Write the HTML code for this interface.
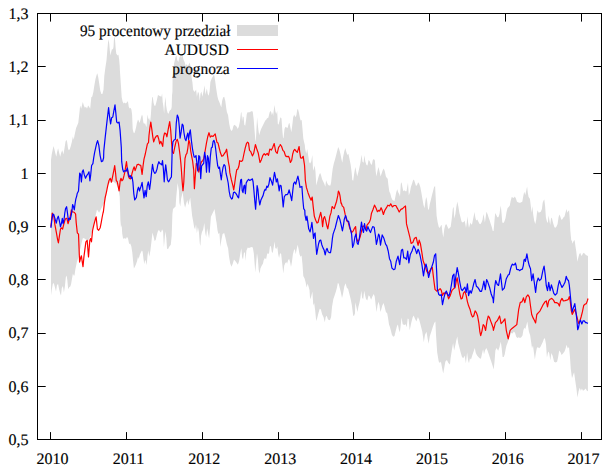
<!DOCTYPE html>
<html><head><meta charset="utf-8"><style>
html,body{margin:0;padding:0;background:#fff;}
svg{display:block;}
text{font-family:"Liberation Serif",serif;font-size:16px;fill:#000;text-rendering:geometricPrecision;stroke:#000;stroke-width:0.15px;}
</style></head><body>
<svg width="611" height="471" viewBox="0 0 611 471">
<path d="M51.0,160.0 L51.7,154.6 L52.8,149.3 L53.5,146.1 L54.4,149.3 L55.4,153.5 L56.3,156.7 L57.0,152.5 L58.1,148.2 L59.1,152.5 L60.2,156.7 L61.3,152.5 L62.3,150.3 L63.4,154.6 L64.5,148.2 L65.5,141.8 L66.3,139.7 L67.1,141.8 L68.0,148.2 L68.7,150.3 L69.8,149.3 L70.8,146.1 L71.9,141.8 L72.9,136.5 L73.7,139.7 L74.5,135.5 L75.4,131.2 L76.1,128.0 L77.2,125.4 L78.3,122.7 L79.0,116.4 L79.6,111.1 L80.1,105.6 L81.2,108.8 L82.8,101.9 L83.8,105.6 L84.9,107.8 L86.0,106.7 L87.0,108.8 L88.1,105.6 L89.1,106.7 L90.2,108.8 L91.3,97.2 L92.3,96.6 L93.4,91.8 L94.5,84.4 L95.5,79.1 L96.6,74.9 L97.3,73.3 L98.2,77.0 L99.2,83.4 L100.3,90.8 L101.4,94.0 L102.4,94.0 L103.5,89.7 L104.3,75.9 L105.4,67.4 L106.1,63.0 L106.5,60.3 L107.2,52.1 L108.0,42.7 L108.6,39.3 L109.2,43.6 L109.9,51.2 L110.6,55.5 L111.2,52.1 L112.0,49.1 L112.9,49.5 L113.5,47.0 L114.0,38.5 L114.6,36.8 L115.0,39.3 L115.7,48.7 L116.3,53.8 L116.9,54.6 L117.7,55.5 L118.4,54.6 L119.1,58.9 L119.7,65.7 L119.9,70.6 L121.0,86.5 L121.7,97.2 L122.6,101.4 L123.6,103.5 L124.7,102.5 L125.8,103.5 L126.8,102.5 L127.6,101.2 L128.0,101.8 L128.8,106.9 L129.7,108.6 L130.5,107.7 L131.4,109.4 L132.1,114.5 L132.7,129.0 L133.5,132.4 L134.4,133.2 L135.2,130.7 L136.1,127.3 L136.9,123.0 L138.0,119.6 L138.6,120.5 L139.5,123.0 L140.3,120.5 L141.2,117.1 L142.0,114.5 L142.6,116.2 L143.3,122.2 L144.1,123.9 L145.0,123.0 L145.8,125.6 L146.5,127.3 L147.1,118.8 L147.7,114.5 L148.4,119.6 L149.1,117.9 L149.7,120.5 L150.3,120.5 L150.9,114.5 L151.6,103.5 L152.2,97.5 L152.8,96.7 L153.5,102.6 L154.3,105.6 L155.2,106.0 L156.0,103.5 L156.9,100.1 L157.7,96.3 L158.0,95.1 L159.7,95.9 L161.4,96.8 L162.1,93.4 L162.7,101.9 L163.5,106.9 L164.1,113.7 L164.8,102.7 L165.5,96.8 L166.1,105.3 L166.9,110.3 L167.7,112.9 L168.6,113.7 L169.4,111.2 L170.3,109.9 L171.1,109.5 L171.7,106.9 L172.1,92.0 L172.4,95.0 L172.6,76.8 L174.0,64.0 L175.6,56.7 L176.5,55.6 L177.2,59.9 L178.3,62.0 L179.3,57.7 L180.4,55.6 L181.1,57.7 L181.8,55.6 L182.5,55.6 L183.6,59.9 L184.6,62.0 L185.7,66.2 L186.8,64.1 L187.8,66.2 L188.9,64.1 L189.6,62.5 L190.5,66.2 L191.5,76.8 L192.4,82.2 L193.1,89.6 L194.2,91.7 L195.0,91.5 L196.1,89.4 L196.9,96.8 L198.0,91.5 L199.0,93.7 L199.8,101.1 L200.5,93.7 L201.4,91.5 L202.4,96.8 L203.5,91.5 L204.6,85.2 L205.4,94.7 L206.1,91.5 L206.9,88.4 L207.7,93.7 L208.6,95.8 L209.6,91.5 L210.4,82.0 L211.1,79.9 L212.0,77.7 L212.8,76.7 L213.6,75.1 L214.3,75.6 L215.2,80.9 L216.0,87.3 L216.8,92.6 L217.5,96.8 L218.4,100.0 L219.4,102.2 L220.5,105.3 L221.3,107.5 L222.1,101.1 L223.1,97.4 L224.2,96.8 L225.3,101.1 L226.3,108.5 L227.4,115.0 L227.6,112.0 L228.2,116.2 L229.2,123.7 L230.3,129.0 L231.4,131.1 L232.4,130.0 L233.5,125.8 L234.6,124.7 L235.6,125.8 L236.7,126.8 L237.7,129.0 L238.8,126.8 L239.9,121.5 L240.9,113.0 L241.5,112.0 L242.0,121.5 L242.8,116.2 L243.6,117.3 L244.3,124.7 L245.2,125.8 L246.0,120.5 L246.8,114.1 L247.8,112.0 L248.9,112.5 L249.9,112.0 L251.0,111.5 L252.1,110.9 L252.8,112.0 L253.7,119.4 L254.5,130.0 L255.3,139.6 L255.8,141.7 L256.3,132.2 L257.1,117.3 L257.7,123.7 L258.4,130.0 L259.2,135.3 L260.0,132.2 L261.1,129.0 L262.2,126.8 L263.2,124.7 L264.3,122.6 L265.3,120.5 L266.4,119.4 L267.3,117.8 L268.0,118.4 L268.7,116.2 L269.6,112.5 L270.4,110.9 L271.2,112.0 L271.9,115.2 L272.8,112.0 L273.1,116.2 L273.8,109.9 L274.6,105.1 L275.3,110.9 L276.2,114.1 L277.2,110.9 L277.8,123.7 L278.5,124.7 L279.4,121.5 L280.4,117.3 L281.5,118.4 L282.3,130.0 L283.1,138.5 L283.6,137.5 L284.5,129.0 L285.5,126.8 L286.6,127.4 L287.6,127.9 L288.7,123.7 L289.5,123.1 L290.2,126.8 L291.3,132.2 L292.1,126.8 L293.2,117.3 L294.2,114.6 L295.3,117.3 L296.4,115.2 L297.2,109.9 L297.9,108.8 L299.0,113.0 L299.8,117.3 L300.6,120.5 L301.7,119.9 L302.5,129.0 L303.3,138.5 L304.0,141.7 L304.8,145.0 L305.1,148.5 L306.2,153.8 L307.2,149.0 L308.3,155.9 L309.2,162.3 L310.2,163.4 L311.3,161.2 L312.3,154.9 L313.1,170.8 L313.8,168.7 L314.7,165.5 L315.5,171.8 L316.3,185.6 L317.3,181.4 L318.4,177.2 L319.5,174.0 L320.2,172.9 L321.0,175.0 L322.1,179.3 L323.2,181.4 L324.2,183.5 L325.3,186.7 L326.1,180.3 L326.9,182.5 L327.9,184.6 L329.0,185.6 L330.4,185.6 L331.1,182.5 L331.9,175.0 L332.7,168.7 L333.8,163.4 L334.8,160.2 L335.9,155.9 L337.0,151.7 L338.2,146.9 L339.3,149.6 L340.4,153.8 L341.4,159.1 L342.3,162.8 L343.1,157.0 L344.2,151.7 L345.3,148.0 L346.3,151.7 L347.4,154.9 L348.4,153.8 L349.5,159.1 L350.6,164.4 L351.6,172.0 L352.3,180.0 L353.2,180.8 L354.2,173.4 L355.3,167.0 L356.2,171.2 L357.2,176.5 L358.3,172.3 L359.3,168.0 L360.4,162.7 L361.5,154.8 L362.5,161.7 L363.6,162.7 L364.3,155.3 L365.4,161.7 L366.5,164.9 L367.5,165.4 L368.6,160.1 L369.6,161.1 L370.7,163.8 L371.8,164.9 L372.8,160.1 L373.9,159.0 L374.9,160.6 L375.7,171.2 L376.5,176.5 L377.4,171.2 L378.5,167.0 L379.5,171.2 L380.6,176.5 L381.6,173.4 L382.7,170.2 L383.8,168.6 L384.8,171.2 L385.9,176.5 L386.9,178.1 L387.7,178.7 L388.4,185.0 L389.3,191.4 L390.3,193.5 L391.4,197.8 L392.5,200.0 L394.5,201.0 L396.2,192.5 L397.2,189.3 L398.3,192.5 L399.4,194.6 L400.0,196.7 L400.8,183.8 L401.6,182.2 L402.4,187.0 L403.3,191.2 L404.3,190.2 L405.4,191.2 L406.5,191.2 L407.2,187.0 L408.0,182.7 L408.8,195.5 L409.9,192.3 L410.9,187.0 L412.0,183.8 L413.0,180.6 L413.9,179.6 L415.0,182.7 L416.0,185.9 L417.1,184.9 L418.1,182.2 L419.2,183.8 L420.3,187.0 L421.3,192.3 L422.4,198.7 L423.5,205.0 L424.5,208.2 L425.6,199.7 L426.3,197.1 L427.1,200.8 L427.9,208.2 L428.8,210.3 L429.8,204.0 L430.9,199.7 L431.9,195.5 L433.0,191.2 L434.1,187.0 L435.1,185.9 L435.9,201.8 L436.6,215.6 L437.3,220.0 L437.7,222.6 L438.7,226.8 L439.8,227.9 L440.8,225.8 L441.6,224.7 L442.4,232.2 L443.3,237.5 L444.3,229.0 L445.4,224.7 L446.5,224.2 L447.5,226.8 L448.6,229.0 L449.6,227.9 L450.7,226.8 L451.8,218.4 L452.8,208.8 L453.6,206.7 L454.3,218.4 L455.4,214.1 L456.2,207.7 L457.3,201.4 L458.4,206.7 L459.4,213.0 L460.5,217.3 L461.5,221.5 L462.6,222.6 L463.7,222.1 L464.5,220.5 L465.3,223.7 L466.0,227.9 L466.8,222.6 L467.5,216.2 L468.1,222.6 L469.0,227.9 L469.8,224.7 L470.6,222.6 L471.3,224.7 L472.2,223.7 L473.0,219.4 L473.9,215.2 L474.5,212.0 L475.3,217.3 L476.2,220.5 L477.3,219.4 L478.3,221.5 L479.4,223.7 L480.4,224.2 L481.5,222.6 L482.6,219.4 L483.4,214.1 L484.1,217.2 L484.9,222.5 L485.7,217.2 L486.4,211.8 L487.5,214.0 L488.5,217.2 L489.6,220.3 L490.6,223.5 L491.7,226.7 L492.8,231.0 L493.6,231.0 L494.5,220.3 L495.2,212.9 L496.3,215.0 L497.3,217.2 L498.4,217.2 L499.5,214.0 L500.2,208.7 L500.8,205.5 L501.6,214.0 L502.3,222.5 L503.4,223.0 L504.4,221.4 L505.5,218.2 L506.6,211.8 L507.6,208.1 L508.7,207.1 L509.8,205.5 L510.6,201.2 L511.7,197.0 L512.7,197.5 L513.8,198.0 L514.8,196.5 L515.9,198.6 L517.0,201.8 L518.0,202.3 L519.1,202.8 L520.2,202.8 L521.2,202.3 L522.3,201.8 L523.1,197.0 L524.2,191.7 L525.3,194.9 L526.3,190.6 L527.1,186.4 L527.8,192.7 L528.6,197.0 L529.7,198.6 L530.0,199.6 L530.8,205.9 L531.6,212.8 L532.3,205.9 L533.2,214.4 L534.2,220.8 L535.3,224.0 L536.2,219.7 L536.9,213.4 L537.6,210.2 L538.7,212.8 L539.8,212.3 L540.8,211.8 L541.9,209.1 L542.7,202.7 L543.6,200.6 L544.3,199.6 L545.1,205.9 L545.9,217.6 L547.0,221.8 L547.8,222.9 L548.6,215.5 L549.3,219.7 L550.2,225.0 L551.0,218.7 L551.8,217.6 L552.5,220.8 L553.4,224.0 L554.4,227.2 L555.5,227.7 L556.5,226.6 L557.6,224.0 L558.5,217.6 L559.3,214.4 L560.3,216.5 L561.3,219.7 L562.4,219.2 L563.4,217.6 L564.5,216.5 L565.6,212.3 L566.6,209.1 L567.4,212.8 L568.2,211.2 L569.1,210.2 L569.8,219.7 L570.3,230.3 L570.9,236.7 L571.3,241.0 L571.8,240.0 L572.5,243.7 L573.6,241.0 L574.6,240.0 L575.5,246.4 L576.3,251.7 L577.4,261.8 L578.1,258.6 L579.2,254.3 L580.3,252.7 L581.0,254.9 L581.8,255.9 L582.7,253.8 L583.8,252.7 L584.8,253.8 L585.9,254.9 L586.9,255.4 L588.0,255.9 L587.9,391.3 L586.9,390.8 L585.7,388.6 L584.2,390.1 L583.0,390.8 L581.9,388.6 L580.9,390.8 L579.7,387.8 L578.5,391.5 L577.5,397.5 L576.4,388.6 L575.3,381.1 L574.1,372.2 L573.0,375.2 L572.0,378.2 L570.8,369.2 L570.0,357.3 L569.0,346.9 L567.8,348.4 L566.6,344.7 L565.6,348.4 L564.5,351.4 L563.0,353.6 L561.6,355.1 L560.4,352.1 L559.2,350.6 L558.1,357.3 L557.1,361.8 L555.6,362.5 L554.1,361.8 L552.6,355.8 L551.4,352.9 L550.3,360.3 L549.2,352.9 L548.2,351.4 L547.0,357.3 L546.9,357.3 L546.0,344.3 L545.1,339.2 L544.2,338.0 L542.9,341.8 L541.7,344.3 L540.4,346.9 L539.1,348.2 L537.8,346.9 L536.8,348.2 L535.8,353.3 L534.9,359.6 L534.0,353.3 L533.0,345.6 L532.0,348.2 L531.1,341.8 L530.2,335.4 L528.9,331.6 L527.9,325.2 L527.3,321.4 L526.4,325.2 L525.3,329.0 L524.3,327.8 L523.4,330.3 L522.5,335.4 L521.3,337.3 L520.0,338.0 L518.7,337.3 L517.4,338.0 L516.2,336.7 L515.1,332.9 L513.9,331.6 L512.6,333.5 L511.3,332.9 L510.0,335.4 L508.8,339.2 L507.5,343.1 L506.5,345.6 L505.6,349.4 L504.7,354.5 L503.7,357.1 L502.6,357.1 L501.7,348.2 L500.8,341.8 L499.8,345.6 L499.6,346.7 L498.1,351.0 L498.0,350.5 L496.5,348.0 L495.4,350.5 L494.6,360.7 L493.7,369.6 L492.6,365.8 L491.4,362.0 L490.1,358.2 L488.8,354.3 L487.5,350.5 L486.3,348.0 L485.0,350.5 L484.0,354.3 L483.1,349.2 L482.2,353.1 L480.9,358.8 L479.6,358.2 L478.4,356.9 L477.1,355.6 L475.8,353.1 L474.8,348.0 L473.5,351.8 L472.2,355.6 L471.0,359.4 L469.9,358.2 L469.0,363.3 L468.2,360.7 L467.1,352.4 L465.9,363.3 L464.6,355.6 L463.3,358.2 L462.0,356.9 L460.8,353.1 L459.5,348.0 L458.2,342.9 L457.3,336.5 L456.3,340.3 L455.0,346.7 L454.1,350.5 L453.1,342.9 L451.8,350.5 L450.6,358.2 L450.0,364.5 L448.4,363.0 L446.9,360.1 L445.4,361.5 L444.3,367.5 L443.2,373.5 L442.0,367.5 L440.9,361.5 L439.9,363.0 L438.7,361.5 L437.2,352.6 L436.0,334.8 L435.4,321.4 L434.2,322.9 L432.7,327.3 L431.3,331.8 L429.8,336.3 L428.6,343.7 L427.5,337.7 L426.5,331.8 L425.0,334.8 L423.8,342.2 L422.3,331.8 L420.8,325.8 L419.3,319.9 L417.9,316.9 L416.4,321.4 L414.9,318.4 L413.7,315.4 L412.6,317.6 L411.2,322.9 L409.7,330.3 L408.6,319.1 L407.7,318.4 L406.7,327.3 L405.7,324.3 L404.2,325.1 L402.7,324.3 L401.5,317.6 L400.8,324.6 L399.9,332.3 L398.9,329.7 L397.9,324.6 L397.0,325.9 L395.7,331.0 L394.5,336.1 L393.2,336.8 L391.9,334.8 L391.0,331.0 L390.0,327.2 L389.0,324.6 L388.1,318.3 L387.2,313.2 L385.9,311.9 L384.6,306.8 L383.6,303.0 L382.3,305.5 L381.3,309.3 L380.4,311.9 L379.5,305.5 L378.5,301.7 L377.5,305.5 L376.6,311.9 L375.7,305.5 L374.7,296.6 L373.7,294.0 L372.4,296.6 L371.1,299.8 L369.8,296.6 L368.6,295.3 L367.3,300.4 L366.0,299.1 L365.1,295.3 L364.2,290.8 L363.2,299.1 L362.2,297.9 L361.3,290.8 L360.4,297.9 L359.4,303.0 L358.4,306.8 L357.5,311.9 L356.6,308.1 L355.3,302.3 L355.0,313.3 L354.1,315.8 L353.2,315.8 L351.9,305.6 L350.7,299.2 L349.4,294.1 L348.1,289.0 L346.8,287.8 L345.6,283.3 L344.3,286.5 L343.0,294.1 L342.0,298.0 L340.7,291.6 L339.7,287.8 L338.8,283.9 L337.9,282.7 L336.9,287.8 L335.9,291.6 L334.6,295.4 L333.3,299.2 L332.0,306.9 L331.1,317.1 L329.9,320.3 L328.0,319.6 L326.7,315.8 L325.7,317.1 L324.8,322.2 L323.5,317.1 L322.2,314.5 L320.9,309.4 L319.7,308.8 L318.4,313.3 L317.1,318.4 L316.2,320.9 L315.2,310.7 L314.2,303.1 L313.3,305.6 L312.4,291.6 L311.1,296.7 L310.1,299.2 L309.5,290.0 L308.4,286.1 L307.6,283.6 L306.7,287.4 L305.6,282.3 L304.6,278.5 L303.3,275.9 L302.5,264.4 L301.6,255.5 L300.5,256.8 L299.5,254.2 L298.6,249.1 L297.7,244.7 L296.7,249.1 L295.7,254.2 L294.8,249.1 L293.9,250.4 L292.9,254.2 L291.9,261.9 L291.0,267.0 L290.1,261.9 L289.1,258.7 L288.0,260.6 L287.1,263.8 L286.3,261.9 L285.2,263.2 L284.2,265.7 L283.3,273.4 L282.0,261.9 L281.2,254.2 L280.1,253.0 L279.1,258.1 L278.2,254.2 L277.3,246.6 L276.3,249.1 L275.3,247.9 L274.5,241.5 L273.8,246.6 L272.7,253.0 L271.8,251.7 L270.9,245.9 L269.9,246.6 L268.9,254.2 L268.0,253.0 L267.1,254.2 L266.1,259.3 L264.8,258.1 L263.6,260.6 L263.0,263.5 L261.5,266.0 L260.4,268.6 L259.6,273.7 L258.7,269.8 L257.9,259.6 L257.0,253.3 L256.1,263.5 L255.3,272.4 L254.8,266.0 L253.8,253.3 L252.8,247.5 L251.5,246.9 L250.2,247.5 L249.0,247.9 L247.7,247.5 L246.4,250.7 L245.5,260.9 L244.9,252.0 L243.9,253.3 L243.0,259.6 L242.1,257.1 L241.3,248.2 L240.4,253.3 L239.1,260.9 L237.9,264.7 L236.6,262.8 L235.3,260.9 L234.0,259.6 L232.8,263.5 L231.5,266.7 L230.2,263.5 L228.9,255.8 L228.1,248.2 L226.8,244.3 L225.5,238.0 L224.2,232.9 L222.6,234.1 L221.3,240.5 L220.4,246.9 L219.4,232.9 L218.4,234.1 L217.5,230.3 L216.6,222.7 L216.0,219.7 L215.5,215.4 L214.5,209.0 L213.4,211.6 L212.2,214.1 L210.9,216.7 L210.0,228.2 L209.1,238.4 L208.1,233.3 L207.1,228.2 L206.2,237.1 L205.3,233.3 L204.3,223.1 L203.2,229.4 L202.0,232.0 L201.1,235.8 L200.4,246.0 L199.8,243.5 L198.9,232.0 L197.9,226.9 L196.9,233.3 L196.0,224.3 L195.1,229.4 L194.1,226.9 L193.0,220.5 L192.1,215.4 L191.3,207.8 L190.2,197.6 L189.2,201.4 L188.3,205.2 L187.4,200.1 L186.4,202.7 L185.1,207.8 L183.9,202.7 L182.7,191.9 L181.1,198.8 L180.3,206.5 L179.4,202.7 L178.9,190.6 L177.6,183.0 L176.6,193.2 L176.2,197.6 L175.6,206.5 L174.3,207.8 L173.0,209.0 L172.4,214.1 L171.7,235.8 L170.8,244.7 L169.2,246.7 L168.0,249.3 L167.0,248.4 L166.3,237.7 L165.2,231.4 L164.5,240.9 L163.9,247.3 L163.1,231.4 L162.1,229.2 L161.0,232.4 L159.9,231.4 L158.9,229.8 L157.8,231.4 L156.7,235.6 L155.7,239.9 L154.6,240.9 L153.6,236.7 L152.5,232.4 L151.4,242.0 L150.4,250.5 L149.3,256.8 L148.3,250.5 L147.5,255.8 L146.7,265.3 L145.8,261.1 L145.1,260.0 L144.3,264.3 L143.5,259.0 L142.6,251.5 L141.9,250.5 L140.8,252.6 L139.8,254.7 L138.7,259.0 L138.0,256.8 L137.1,261.1 L136.0,264.3 L135.0,266.4 L133.9,268.5 L133.1,261.1 L132.3,252.6 L131.3,246.2 L130.2,243.6 L129.1,244.1 L128.1,238.8 L127.0,236.7 L126.0,238.8 L124.4,238.3 L123.1,238.8 L122.2,233.5 L121.7,225.0 L121.0,227.6 L120.4,220.0 L119.7,196.4 L118.2,188.0 L116.1,183.7 L113.0,181.6 L108.7,183.7 L106.6,190.0 L105.5,200.0 L103.4,204.2 L101.3,208.5 L99.1,212.7 L97.0,209.6 L95.5,216.0 L93.9,224.2 L92.3,230.6 L90.7,235.9 L89.1,239.1 L87.5,241.2 L85.9,239.6 L83.8,238.0 L82.7,238.6 L81.6,243.0 L80.6,247.6 L79.6,251.0 L79.1,253.2 L78.6,256.4 L77.7,259.6 L76.9,261.7 L76.1,265.9 L75.4,269.1 L74.5,275.5 L73.7,275.5 L72.9,273.4 L72.2,277.6 L71.1,284.0 L70.3,286.6 L69.2,287.2 L68.2,289.3 L67.3,279.7 L66.6,275.5 L65.8,277.6 L64.8,287.2 L63.9,292.5 L62.9,286.1 L61.8,288.2 L61.0,295.6 L60.2,293.5 L59.1,289.3 L58.1,284.0 L57.0,285.0 L56.0,291.4 L54.9,287.2 L53.8,282.9 L52.8,284.0 L51.7,290.3 L51.0,295.6 Z" fill="#dcdcdc" stroke="none"/>
<path d="M50.9,226.8 L52.2,213.0 L53.8,216.2 L54.9,224.7 L56.3,232.2 L57.6,239.6 L58.4,242.8 L59.5,235.3 L60.5,229.0 L61.6,227.9 L62.6,229.0 L63.7,224.7 L64.8,220.5 L65.8,218.4 L66.9,218.4 L68.0,223.7 L69.0,220.5 L70.3,216.2 L71.4,209.9 L72.4,212.0 L73.5,212.0 L74.5,212.5 L75.6,214.1 L76.2,222.6 L77.3,232.8 L78.5,234.1 L79.6,262.1 L80.5,258.3 L81.4,255.8 L82.1,260.9 L83.0,266.6 L83.9,257.0 L84.9,249.4 L85.9,241.8 L87.2,240.5 L88.5,257.0 L89.8,240.5 L90.6,238.6 L91.5,241.8 L92.6,230.3 L93.8,225.2 L95.1,220.1 L96.1,216.9 L97.4,229.0 L98.7,230.3 L100.2,227.7 L101.2,222.6 L102.1,217.5 L103.0,213.0 L103.4,211.7 L104.4,203.0 L105.1,198.0 L106.4,192.3 L107.7,185.9 L108.9,180.8 L110.2,178.3 L111.5,182.1 L112.8,175.7 L113.8,170.6 L114.7,165.5 L115.6,173.2 L116.3,180.8 L117.2,181.5 L118.1,185.9 L119.1,191.0 L120.2,180.8 L121.0,178.3 L121.9,180.8 L123.0,179.5 L124.0,175.7 L124.9,171.9 L125.8,165.5 L126.5,161.7 L127.4,169.3 L128.3,175.7 L129.3,178.3 L130.4,178.9 L131.3,177.0 L132.1,173.2 L133.2,169.3 L134.2,166.8 L135.1,170.6 L136.0,168.1 L137.0,164.9 L138.3,164.2 L139.5,164.9 L140.8,165.5 L142.1,174.4 L143.1,165.5 L144.0,159.1 L145.3,154.0 L146.6,147.7 L147.4,143.8 L148.5,142.6 L149.0,135.5 L149.9,127.9 L150.8,122.1 L151.8,129.1 L152.8,136.8 L153.7,141.9 L155.0,138.1 L156.3,136.1 L157.6,135.5 L158.8,139.3 L159.7,143.8 L160.8,141.3 L161.8,143.8 L162.7,146.4 L163.6,136.8 L164.6,133.0 L165.9,133.6 L166.9,136.8 L167.8,131.7 L168.7,126.6 L169.7,121.5 L170.7,130.4 L171.6,143.2 L172.5,152.1 L173.5,153.4 L174.8,147.0 L176.1,141.3 L177.3,139.3 L178.4,143.2 L179.3,149.5 L180.1,155.9 L180.9,163.6 L181.4,170.0 L182.2,182.0 L183.0,190.6 L183.8,182.0 L184.5,168.0 L185.0,158.5 L186.0,154.6 L186.9,153.4 L187.8,148.3 L188.8,140.0 L189.8,143.2 L190.7,150.8 L191.6,155.9 L192.6,161.0 L193.7,170.0 L194.4,188.7 L195.3,176.0 L196.3,163.3 L197.6,165.8 L198.8,172.2 L200.1,165.8 L201.4,162.0 L202.7,160.7 L203.9,158.2 L205.2,150.5 L206.5,142.9 L207.8,136.5 L209.0,132.7 L210.3,137.1 L211.6,135.8 L212.9,136.5 L214.1,135.2 L215.2,133.9 L216.0,137.8 L216.9,142.2 L218.0,142.9 L219.2,148.0 L220.5,153.1 L221.8,156.3 L223.1,155.6 L224.3,153.7 L225.6,151.8 L226.6,149.2 L227.5,155.6 L228.4,162.0 L229.4,167.1 L229.8,172.4 L231.4,179.9 L233.0,186.2 L233.7,189.9 L234.6,184.1 L235.6,176.7 L236.7,169.8 L237.7,169.2 L238.6,167.1 L239.3,164.0 L239.6,160.7 L240.0,160.9 L241.3,161.5 L242.6,160.5 L243.9,154.0 L245.2,148.1 L246.5,143.5 L247.5,142.2 L248.5,142.9 L249.5,150.4 L250.8,151.7 L252.4,155.9 L253.7,153.3 L255.4,144.5 L256.7,148.7 L258.3,153.3 L260.0,162.5 L261.3,159.9 L262.9,155.3 L264.2,153.7 L265.5,155.0 L267.2,153.3 L268.5,155.3 L269.8,149.1 L271.4,150.1 L272.7,147.4 L274.2,143.5 L275.7,151.7 L277.2,153.3 L278.6,147.4 L280.0,145.5 L280.3,144.5 L281.6,146.5 L282.9,150.4 L284.2,151.7 L285.5,155.9 L286.8,156.6 L288.5,156.3 L289.5,158.6 L290.4,162.5 L291.7,160.2 L292.7,154.0 L293.7,150.7 L294.7,149.4 L296.0,151.0 L297.3,152.3 L298.3,149.1 L299.1,146.5 L299.7,152.0 L300.6,157.9 L301.9,158.2 L303.2,156.3 L303.9,161.2 L304.5,165.0 L305.1,174.9 L305.3,180.0 L306.4,187.4 L308.0,192.7 L309.6,197.0 L311.1,200.2 L312.2,197.0 L313.3,207.6 L314.3,216.1 L315.7,220.3 L317.0,223.0 L318.0,222.5 L319.1,218.2 L320.7,212.4 L321.8,218.2 L322.6,226.7 L323.6,218.2 L324.6,216.6 L325.7,220.3 L326.8,225.6 L327.8,228.8 L328.9,222.5 L329.9,216.1 L331.0,212.9 L332.1,206.5 L333.1,207.6 L334.2,208.7 L335.2,205.5 L336.6,201.2 L337.7,195.9 L338.4,191.1 L339.3,192.7 L340.0,195.9 L341.0,203.1 L341.2,202.8 L342.2,205.8 L343.7,207.3 L345.2,214.7 L346.7,220.7 L348.2,222.1 L349.7,228.1 L351.6,232.5 L353.1,231.1 L354.6,228.1 L355.6,226.6 L356.6,238.5 L357.8,241.5 L359.0,240.0 L360.1,237.0 L361.5,231.1 L362.6,226.6 L363.8,225.9 L365.0,228.1 L366.0,229.6 L367.0,225.1 L368.2,223.6 L369.4,222.1 L370.5,219.2 L371.5,213.2 L373.0,209.5 L374.5,205.1 L376.0,208.0 L377.4,211.7 L378.9,210.3 L379.7,211.1 L381.1,207.7 L382.2,210.3 L383.4,214.5 L384.8,210.3 L386.5,207.7 L387.8,205.2 L389.5,206.0 L390.7,203.8 L392.4,206.9 L394.1,205.5 L395.8,205.5 L397.5,208.6 L399.2,212.0 L400.9,209.4 L402.6,208.6 L404.3,206.9 L405.5,206.0 L406.5,223.9 L408.2,230.7 L409.9,237.4 L411.1,243.4 L412.8,242.5 L414.5,238.3 L416.2,237.4 L417.4,242.5 L418.1,245.3 L419.2,240.2 L420.4,243.6 L421.8,252.1 L423.1,260.6 L424.3,264.0 L425.5,267.4 L426.9,271.6 L428.2,273.3 L429.9,270.7 L431.1,268.2 L432.3,267.4 L433.7,279.2 L435.0,289.4 L436.7,291.1 L438.4,290.3 L440.1,288.6 L441.3,290.3 L442.5,295.4 L443.9,292.8 L445.2,293.7 L446.9,292.8 L448.6,298.8 L450.3,295.4 L452.0,290.3 L453.7,288.6 L455.1,287.7 L456.4,280.4 L457.2,277.8 L458.4,285.5 L459.8,294.0 L461.1,299.0 L462.3,298.2 L463.5,293.1 L464.9,291.4 L466.2,295.7 L467.4,301.6 L468.6,305.8 L470.0,309.2 L471.3,314.3 L472.5,316.9 L473.7,316.0 L475.1,310.9 L476.4,312.6 L477.6,316.0 L478.8,322.8 L479.8,331.3 L480.7,335.6 L481.9,331.3 L483.2,324.5 L484.4,326.2 L485.6,330.5 L487.0,321.1 L488.3,316.0 L489.5,317.7 L490.7,321.1 L492.0,324.5 L493.1,327.9 L493.4,330.3 L495.4,322.7 L497.3,320.7 L499.6,316.0 L501.1,323.6 L503.0,321.7 L504.9,318.8 L506.3,330.3 L508.2,338.9 L510.1,330.3 L512.0,328.4 L514.5,326.5 L516.8,324.6 L518.7,309.3 L520.2,302.6 L522.1,301.6 L523.5,297.8 L524.8,302.6 L526.3,296.8 L527.9,294.9 L529.2,296.8 L529.4,297.5 L530.5,306.0 L531.7,314.5 L533.1,317.9 L534.5,320.5 L535.6,323.0 L536.8,314.5 L538.2,312.8 L539.9,311.1 L541.6,307.7 L543.3,304.3 L545.0,301.8 L546.3,300.9 L547.5,306.9 L548.7,300.9 L550.1,299.2 L551.8,298.4 L553.5,300.1 L554.8,302.6 L556.5,302.6 L558.2,303.5 L559.4,306.0 L560.6,300.9 L562.0,298.4 L563.3,300.9 L565.0,300.6 L566.7,300.1 L568.0,299.6 L568.4,299.1 L569.3,296.6 L570.3,301.7 L571.3,310.6 L572.2,314.4 L573.5,311.9 L574.8,309.3 L576.0,313.2 L577.3,318.3 L578.6,323.4 L579.9,320.8 L581.1,317.0 L582.4,311.9 L583.7,305.5 L585.0,304.2 L586.3,303.6 L587.5,300.4 L588.0,298.5" fill="none" stroke="#ff0000" stroke-width="1.2" stroke-linejoin="round"/>
<path d="M50.9,227.9 L51.7,221.5 L52.8,214.1 L53.8,214.6 L54.9,218.4 L56.3,223.1 L57.3,218.4 L58.3,216.2 L59.5,221.5 L60.5,226.8 L61.6,222.6 L62.3,218.4 L63.1,223.7 L63.9,220.5 L64.8,213.0 L65.5,208.8 L66.6,206.7 L67.6,214.1 L68.4,220.5 L69.2,218.4 L70.3,219.4 L71.4,214.1 L72.2,208.8 L72.6,204.6 L73.5,206.7 L74.3,209.9 L75.1,203.5 L75.8,199.2 L76.7,196.1 L77.2,193.5 L78.5,191.0 L79.7,173.1 L80.6,174.4 L81.4,182.0 L82.3,171.8 L83.2,169.9 L84.2,174.4 L85.5,178.2 L86.7,175.7 L88.0,173.8 L89.0,171.8 L89.9,180.8 L90.6,175.7 L91.6,165.5 L92.9,163.6 L93.7,157.8 L94.6,152.7 L95.7,147.6 L96.7,143.2 L97.6,140.6 L98.8,145.1 L100.1,155.3 L101.4,161.7 L102.7,161.0 L103.6,157.8 L103.8,150.9 L105.2,137.4 L106.9,122.1 L108.6,107.6 L109.4,115.3 L110.6,123.8 L111.6,117.8 L112.8,117.0 L114.0,110.2 L115.0,104.8 L115.7,111.9 L116.7,122.1 L117.9,122.9 L119.1,122.1 L120.1,130.6 L121.3,147.5 L121.7,161.7 L122.7,169.3 L123.6,171.9 L124.9,170.6 L126.1,171.3 L127.4,168.1 L128.3,173.2 L129.3,177.0 L130.4,175.7 L131.3,178.3 L132.1,177.0 L132.9,182.1 L133.8,193.6 L134.7,200.0 L136.4,197.4 L137.6,189.7 L138.5,187.2 L139.5,191.0 L140.0,189.3 L141.1,186.1 L142.1,182.4 L143.0,190.3 L144.0,197.8 L145.1,190.3 L146.2,196.7 L147.2,186.1 L148.3,181.8 L149.6,189.3 L150.6,181.8 L151.7,171.2 L152.5,164.3 L153.6,171.2 L154.9,173.4 L155.9,172.3 L157.0,169.1 L157.8,164.9 L158.9,161.7 L160.0,163.8 L161.0,163.8 L161.8,164.9 L162.5,160.6 L163.4,169.1 L164.2,181.8 L164.9,172.3 L165.7,164.9 L166.5,171.2 L167.4,179.7 L168.5,181.8 L169.5,180.3 L170.6,178.1 L171.4,177.0 L171.6,172.0 L172.2,149.5 L172.9,141.9 L174.1,140.0 L175.4,139.3 L176.3,122.8 L177.3,115.1 L178.4,117.7 L179.3,126.6 L180.1,138.1 L181.2,131.7 L182.2,124.0 L183.1,125.3 L184.0,133.0 L185.0,138.7 L186.0,140.6 L186.9,136.1 L187.8,133.0 L188.6,139.3 L189.5,133.0 L190.3,129.8 L191.4,140.6 L192.4,148.3 L193.3,153.4 L194.2,157.2 L195.2,156.9 L196.0,155.6 L196.9,163.3 L197.8,170.9 L198.8,155.6 L199.8,156.9 L200.7,178.6 L201.6,165.8 L202.7,164.5 L203.7,163.3 L204.6,152.4 L205.5,156.9 L206.5,172.2 L207.5,155.6 L208.4,158.2 L209.3,172.2 L210.3,156.9 L211.3,148.0 L212.2,147.3 L213.1,141.6 L213.9,140.3 L214.8,142.9 L215.7,149.2 L216.7,158.2 L217.7,165.8 L218.6,168.4 L219.5,167.1 L220.5,174.7 L221.3,179.8 L222.0,173.5 L223.1,167.1 L224.1,164.5 L225.1,165.8 L226.1,173.5 L227.1,177.7 L228.2,183.0 L229.2,191.5 L230.3,196.8 L231.6,199.0 L232.4,198.4 L233.5,192.6 L234.6,192.1 L235.6,193.1 L236.7,194.7 L237.7,196.8 L238.6,197.9 L239.6,189.4 L240.7,179.9 L241.5,179.3 L242.2,190.5 L243.0,192.6 L243.9,186.2 L244.6,185.2 L245.4,193.7 L246.2,183.0 L247.3,180.9 L248.6,179.3 L249.6,180.4 L251.0,179.9 L252.4,178.8 L253.1,182.0 L253.9,190.5 L254.7,200.0 L255.6,209.1 L256.3,199.0 L257.1,185.7 L257.9,189.4 L258.8,199.0 L259.8,204.8 L260.9,200.0 L261.9,197.9 L263.0,195.8 L264.1,191.5 L265.0,189.4 L265.8,190.2 L266.8,186.2 L267.8,187.3 L268.9,184.1 L270.0,177.7 L271.3,180.9 L272.6,185.2 L273.7,177.7 L274.5,172.4 L275.6,177.7 L276.3,182.0 L277.4,178.8 L278.5,186.2 L279.2,191.0 L280.0,185.2 L281.1,185.7 L282.2,195.8 L283.2,206.9 L284.3,196.8 L285.6,194.7 L286.9,194.7 L288.0,193.7 L289.1,189.9 L290.1,193.7 L290.9,196.8 L291.7,200.6 L292.8,190.5 L293.6,183.6 L294.7,182.0 L295.8,184.1 L296.8,179.9 L297.9,176.1 L298.9,180.9 L300.0,187.3 L301.1,186.9 L301.9,186.4 L302.7,198.0 L303.7,208.7 L304.8,210.3 L305.0,215.0 L306.1,220.3 L306.9,216.1 L307.7,221.4 L308.7,228.8 L310.1,232.0 L311.2,226.7 L311.9,222.4 L312.6,228.8 L313.5,238.4 L314.3,234.1 L315.1,233.0 L315.8,243.7 L316.7,254.3 L317.5,250.0 L318.6,243.7 L319.6,240.5 L320.7,240.0 L321.8,244.7 L323.0,247.9 L324.1,250.0 L325.2,254.8 L326.2,250.0 L327.1,248.4 L328.1,251.6 L329.2,252.7 L330.5,252.7 L331.5,246.8 L332.4,238.4 L333.1,234.1 L334.2,230.9 L335.3,227.7 L336.3,223.5 L337.4,219.2 L338.4,215.5 L339.8,219.2 L341.1,224.6 L342.4,230.9 L343.4,225.6 L344.3,219.2 L345.0,217.1 L345.6,215.5 L347.1,220.7 L348.6,221.4 L350.1,228.1 L351.6,234.0 L352.6,247.4 L353.7,244.4 L354.9,237.0 L356.0,234.0 L357.1,243.0 L358.1,244.4 L359.3,238.5 L360.5,229.6 L361.5,222.1 L362.6,229.6 L363.5,232.5 L364.5,223.6 L365.6,229.6 L366.7,231.1 L367.9,226.6 L369.0,229.6 L370.5,232.5 L371.5,229.6 L372.7,226.6 L374.2,227.3 L375.4,235.5 L376.4,244.4 L377.4,240.0 L378.6,234.0 L379.4,235.7 L380.5,245.1 L382.2,234.9 L383.9,238.3 L385.6,244.2 L386.8,245.9 L388.2,251.0 L389.5,258.7 L390.7,261.2 L391.9,268.0 L393.6,269.7 L395.0,268.9 L396.3,261.2 L398.0,256.1 L399.7,264.6 L401.4,250.2 L402.6,249.3 L403.8,257.8 L405.2,257.8 L406.5,259.5 L407.7,251.0 L408.9,262.9 L410.3,254.4 L412.0,251.0 L413.7,245.9 L415.4,249.3 L416.7,253.6 L418.1,249.3 L418.2,249.7 L418.7,250.4 L420.1,255.5 L421.8,264.0 L423.5,275.8 L424.8,267.4 L426.0,264.0 L427.2,269.0 L428.6,277.5 L429.9,272.4 L431.6,267.4 L433.3,262.3 L434.5,255.5 L435.7,253.8 L436.7,272.4 L437.4,289.4 L438.8,294.5 L440.1,295.4 L441.3,294.5 L442.5,304.7 L443.9,297.9 L445.2,292.8 L446.4,291.1 L447.6,294.5 L449.0,296.2 L450.3,291.1 L451.5,284.3 L452.7,275.8 L454.0,274.1 L454.4,287.2 L455.5,278.7 L457.2,267.6 L458.4,273.6 L459.8,282.1 L461.1,288.9 L462.3,290.6 L463.5,288.9 L464.9,287.2 L466.2,292.3 L467.4,283.8 L468.6,295.7 L470.0,290.6 L471.3,293.1 L472.5,288.9 L473.7,283.8 L475.1,279.5 L476.4,286.3 L477.6,287.2 L478.8,288.9 L480.2,291.4 L481.5,291.4 L482.7,287.2 L483.9,281.2 L485.3,289.7 L486.6,279.5 L487.8,282.1 L489.5,287.2 L491.2,294.0 L493.1,299.0 L493.4,302.6 L494.8,286.3 L495.7,280.6 L497.3,284.4 L498.6,285.4 L500.5,273.9 L502.4,290.2 L504.3,288.2 L506.3,278.7 L508.2,274.9 L509.2,274.5 L510.5,269.0 L511.4,266.0 L512.4,264.1 L513.5,265.0 L514.6,264.6 L515.4,263.1 L516.0,265.2 L516.7,269.4 L517.7,269.6 L518.6,269.6 L519.6,270.7 L520.9,269.6 L522.4,269.2 L523.3,265.6 L524.1,259.7 L525.0,259.2 L525.4,261.5 L526.9,253.8 L528.2,261.5 L529.4,266.1 L530.5,268.7 L531.7,280.6 L533.1,273.8 L534.5,284.0 L535.6,292.4 L536.8,282.3 L538.2,278.0 L539.5,280.6 L541.2,278.9 L542.9,270.4 L544.1,266.1 L545.3,275.5 L546.3,285.7 L547.5,290.7 L548.7,282.3 L550.1,290.7 L551.4,284.8 L552.6,289.0 L553.8,293.3 L555.2,295.0 L556.9,293.3 L558.2,285.7 L559.4,280.6 L560.6,284.0 L562.0,287.4 L563.7,284.8 L565.0,282.3 L566.2,276.3 L567.5,280.0 L568.4,280.0 L569.3,285.1 L570.3,295.3 L571.3,305.5 L572.2,311.9 L573.5,307.4 L574.8,303.6 L575.7,310.0 L576.7,318.3 L577.7,329.7 L578.6,327.2 L579.5,322.1 L580.5,320.2 L581.8,324.0 L583.1,320.8 L584.3,320.8 L585.6,322.7 L586.6,322.7 L587.9,323.4" fill="none" stroke="#0000ff" stroke-width="1.2" stroke-linejoin="round"/>
<rect x="37.5" y="13.5" width="564" height="426" fill="none" stroke="#000" stroke-width="1"/>
<path d="M37,13.5 H45.7 M601,13.5 H593.3 M37,66.5 H45.7 M601,66.5 H593.3 M37,120.5 H45.7 M601,120.5 H593.3 M37,173.5 H45.7 M601,173.5 H593.3 M37,226.5 H45.7 M601,226.5 H593.3 M37,279.5 H45.7 M601,279.5 H593.3 M37,333.5 H45.7 M601,333.5 H593.3 M37,386.5 H45.7 M601,386.5 H593.3 M37,439.5 H45.7 M601,439.5 H593.3 M50.5,13 V21.6 M50.5,439 V432.1 M126.5,13 V21.6 M126.5,439 V432.1 M202.5,13 V21.6 M202.5,439 V432.1 M278.5,13 V21.6 M278.5,439 V432.1 M353.5,13 V21.6 M353.5,439 V432.1 M429.5,13 V21.6 M429.5,439 V432.1 M505.5,13 V21.6 M505.5,439 V432.1 M581.5,13 V21.6 M581.5,439 V432.1" stroke="#000" stroke-width="1" fill="none"/>
<rect x="237" y="25" width="41" height="11" fill="#dcdcdc"/>
<path d="M237,49.5 H278" stroke="#ff0000" stroke-width="1"/>
<path d="M237,68.5 H278" stroke="#0000ff" stroke-width="1"/>
<text x="28.5" y="18.8" text-anchor="end">1,3</text>
<text x="28.5" y="72.0" text-anchor="end">1,2</text>
<text x="28.5" y="125.3" text-anchor="end">1,1</text>
<text x="28.5" y="178.6" text-anchor="end">1</text>
<text x="28.5" y="231.8" text-anchor="end">0,9</text>
<text x="28.5" y="285.1" text-anchor="end">0,8</text>
<text x="28.5" y="338.3" text-anchor="end">0,7</text>
<text x="28.5" y="391.6" text-anchor="end">0,6</text>
<text x="28.5" y="444.8" text-anchor="end">0,5</text>
<text x="52.6" y="464" text-anchor="middle">2010</text>
<text x="128.5" y="464" text-anchor="middle">2011</text>
<text x="204.3" y="464" text-anchor="middle">2012</text>
<text x="280.2" y="464" text-anchor="middle">2013</text>
<text x="356.0" y="464" text-anchor="middle">2014</text>
<text x="431.9" y="464" text-anchor="middle">2015</text>
<text x="507.7" y="464" text-anchor="middle">2016</text>
<text x="583.6" y="464" text-anchor="middle">2017</text>
<text x="80" y="36" textLength="150.6" lengthAdjust="spacingAndGlyphs">95 procentowy przedział</text>
<text x="164.5" y="55" textLength="64.3" lengthAdjust="spacingAndGlyphs">AUDUSD</text>
<text x="172.3" y="73.5" textLength="57.4" lengthAdjust="spacingAndGlyphs">prognoza</text>
</svg>
</body></html>
